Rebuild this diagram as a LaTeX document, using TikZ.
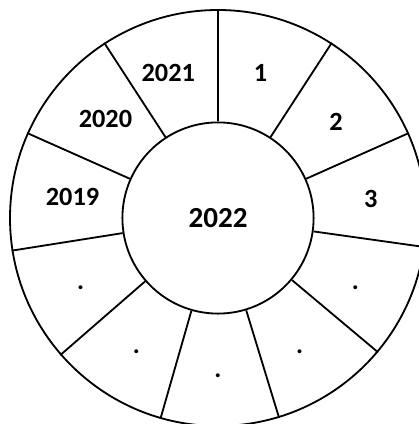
\documentclass[tikz,border=0pt]{standalone}
\usepackage{fontspec}
\setmainfont{Carlito}
\usetikzlibrary{positioning}
\tikzset{
  ringline/.style={draw=black, line width=1.3pt},
  hubnode/.style={circle, draw=black, line width=1.3pt, minimum size=4.78cm,
                  inner sep=0pt, font=\fontsize{20.7}{24}\selectfont\bfseries},
  rimnode/.style={circle, draw=black, line width=1.3pt, minimum size=10.4cm,
                  inner sep=0pt},
  slotlab/.style={inner sep=0pt, font=\fontsize{18.7}{22}\selectfont\bfseries},
}

\begin{document}
\begin{tikzpicture}
  \useasboundingbox (-5.45,-5.15) rectangle (5.0,5.45);

  \node[rimnode] (rim) at (0,0) {};
  \node[hubnode] (hub) at (0,0) {2022};

  % spokes between the two rings
  \foreach \k [evaluate=\k as \a using 90-\k*360/11] in {0,...,10}
    \draw[ringline] (hub.\a) -- (rim.\a);

  % sector labels (text / nudge x / nudge y)
  \foreach \t/\dx/\dy [count=\k from 0, evaluate=\k as \m using 90-(\k+0.5)*360/11]
      in {1/0/0, 2/0.1/-0.08, 3/0.08/-0.05, ./0/0, ./0/0, ./0/0, ./0/0, ./0/0,
          2019/0.1/0, 2020/0.04/0, 2021/-0.18/0}
    \node[slotlab, xshift=\dx cm, yshift=\dy cm] (slot-\k) at (\m:3.775) {\vphantom{0}\t};
\end{tikzpicture}
\end{document}
